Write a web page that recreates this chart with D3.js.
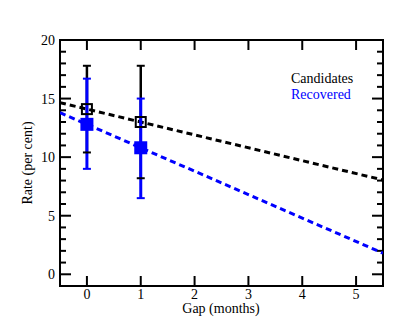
<!DOCTYPE html>
<html>
<head>
<meta charset="utf-8">
<script src="https://cdn.jsdelivr.net/npm/d3@7"></script>
<style>
  body { margin: 0; background: #fff; }
</style>
</head>
<body>
<svg id="chart" width="415" height="332"></svg>
<script>
// data
const gaps = [0, 1];
const candRate = [14.1, 13.0];
const candLow = [10.4, 8.2];
const candHigh = [17.8, 17.8];
const recRate = [12.8, 10.8];
const recLow = [9.0, 6.5];
const recHigh = [16.7, 15.0];
// dashed fit lines: intercept, slope
const candFit = [14.1, -1.1];
const recFit = [12.8, -2.0];
const xTicks = [0, 1, 2, 3, 4, 5];
const yTicks = [0, 5, 10, 15, 20];
const yMinor = d3.range(-1, 21, 1);

const font = "'Liberation Serif', 'DejaVu Serif', 'Times New Roman', Times, serif";

const svg = d3.select('#chart');
const x = d3.scaleLinear().domain([-0.5, 5.5]).range([60, 383]);
const y = d3.scaleLinear().domain([-1, 20]).range([286, 40]);

const g = svg.append('g');

// ticks, all pointing in
function ticks(vals, len, side){
  vals.forEach(function(v){
    let x1, x2, y1, y2;
    if(side == 'left'){ x1 = x.range()[0]; x2 = x1 + len; y1 = y2 = y(v); }
    else if(side == 'right'){ x1 = x.range()[1]; x2 = x1 - len; y1 = y2 = y(v); }
    else if(side == 'bottom'){ y1 = y.range()[0]; y2 = y1 - len; x1 = x2 = x(v); }
    else { y1 = y.range()[1]; y2 = y1 + len; x1 = x2 = x(v); }
    g.append('line')
      .attr('x1', x1).attr('x2', x2).attr('y1', y1).attr('y2', y2)
      .attr('stroke', '#000').attr('stroke-width', 2);
  });
}
ticks(yMinor.filter(v => v % 5 != 0), 6, 'left');
ticks(yMinor.filter(v => v % 5 != 0), 6, 'right');
ticks(yTicks, 11, 'left');
ticks(yTicks, 11, 'right');
ticks(xTicks, 10, 'bottom');
ticks(xTicks, 10, 'top');

g.append('rect')
  .attr('x', x.range()[0]).attr('y', y.range()[1])
  .attr('width', x.range()[1] - x.range()[0])
  .attr('height', y.range()[0] - y.range()[1])
  .attr('fill', 'none').attr('stroke', '#000').attr('stroke-width', 2);

// tick labels
g.selectAll('.xlab').data(xTicks).enter().append('text')
  .attr('x', d => x(d)).attr('y', 299)
  .attr('text-anchor', 'middle').attr('font-size', 14).attr('font-family', font)
  .text(d => d);
g.selectAll('.ylab').data(yTicks).enter().append('text')
  .attr('x', 55).attr('y', d => y(d) + 5)
  .attr('text-anchor', 'end').attr('font-size', 14).attr('font-family', font)
  .text(d => d);

svg.append('text')
  .attr('x', 221).attr('y', 313)
  .attr('text-anchor', 'middle').attr('font-size', 14).attr('font-family', font)
  .text('Gap (months)');
svg.append('text')
  .attr('transform', 'translate(32,163)rotate(-90)')
  .attr('text-anchor', 'middle').attr('font-size', 14).attr('font-family', font)
  .text('Rate (per cent)');

// clip for fit lines
svg.append('clipPath').attr('id', 'clip').append('rect')
  .attr('x', x.range()[0]).attr('y', y.range()[1])
  .attr('width', x.range()[1] - x.range()[0])
  .attr('height', y.range()[0] - y.range()[1]);

function fitLine(fit, color){
  const xs = x.domain();
  svg.append('line')
    .attr('clip-path', 'url(#clip)')
    .attr('x1', x(xs[0])).attr('y1', y(fit[0] + fit[1]*xs[0]))
    .attr('x2', x(xs[1])).attr('y2', y(fit[0] + fit[1]*xs[1]))
    .attr('stroke', color).attr('stroke-width', 3)
    .attr('stroke-dasharray', '6,4');
}
fitLine(candFit, '#000');
fitLine(recFit, '#0000ff');

function bars(low, high, color, w){
  gaps.forEach(function(d, i){
    svg.append('line')
      .attr('x1', x(d)).attr('x2', x(d))
      .attr('y1', y(low[i])).attr('y2', y(high[i]))
      .attr('stroke', color).attr('stroke-width', w);
  });
}
function caps(low, high, color){
  gaps.forEach(function(d, i){
    [low[i], high[i]].forEach(function(v){
      svg.append('line')
        .attr('x1', x(d) - 4).attr('x2', x(d) + 4)
        .attr('y1', y(v)).attr('y2', y(v))
        .attr('stroke', color).attr('stroke-width', 2);
    });
  });
}
bars(candLow, candHigh, '#000', 2.5);
bars(recLow, recHigh, '#0000ff', 3);
caps(candLow, candHigh, '#000');
caps(recLow, recHigh, '#0000ff');

// markers
svg.selectAll('.cand').data(gaps).enter().append('rect')
  .attr('x', d => x(d) - 5).attr('y', (d, i) => y(candRate[i]) - 5)
  .attr('width', 10).attr('height', 10)
  .attr('fill', 'none').attr('stroke', '#000').attr('stroke-width', 2);
svg.selectAll('.rec').data(gaps).enter().append('rect')
  .attr('x', d => x(d) - 6.5).attr('y', (d, i) => y(recRate[i]) - 6.5)
  .attr('width', 13).attr('height', 13)
  .attr('fill', '#0000ff');

// legend
svg.append('text')
  .attr('x', 291).attr('y', 83).attr('font-size', 14).attr('font-family', font)
  .attr('fill', '#000').text('Candidates');
svg.append('text')
  .attr('x', 291).attr('y', 99).attr('font-size', 14).attr('font-family', font)
  .attr('fill', '#0000ff').text('Recovered');
</script>
</body>
</html>
